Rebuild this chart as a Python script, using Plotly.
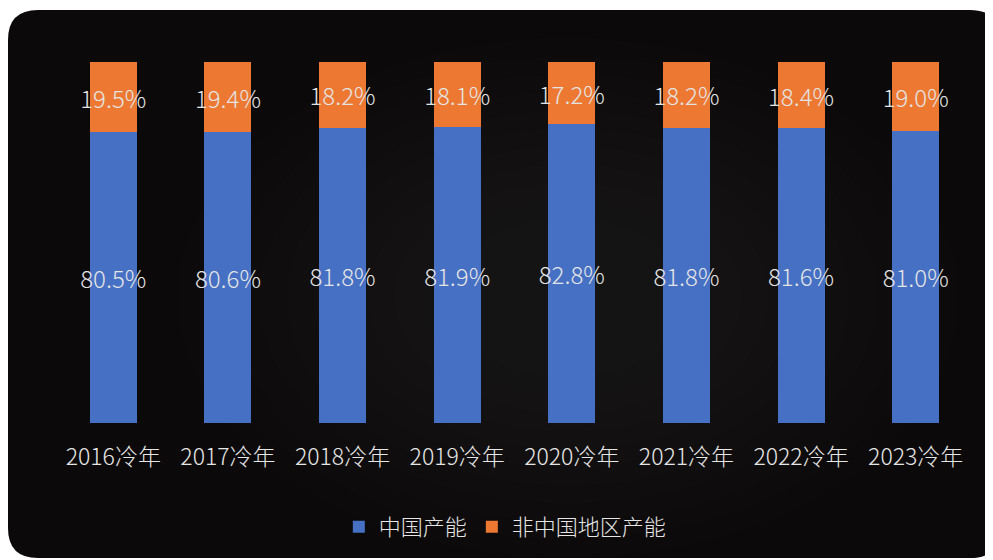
import plotly.graph_objects as go

categories = ["2016冷年", "2017冷年", "2018冷年", "2019冷年", "2020冷年", "2021冷年", "2022冷年", "2023冷年"]
china_share = [80.5, 80.6, 81.8, 81.9, 82.8, 81.8, 81.6, 81.0]
non_china_share = [19.5, 19.4, 18.2, 18.1, 17.2, 18.2, 18.4, 19.0]
series_names = ["中国产能", "非中国地区产能"]

FONT = "Noto Sans CJK SC, Microsoft YaHei, sans-serif"
W, H = 993, 560
L, R, T, B = 48, 28, 54, 145
pw, ph = W - L - R, H - T - B

def px_x(x):
    return (x - L) / pw

def px_y(y):
    return (H - B - y) / ph

fig = go.Figure()
fig.add_trace(go.Bar(
    x=categories, y=china_share, name=series_names[0],
    marker=dict(color="#4570c4", line=dict(width=0)),
    text=[f"{v:.1f}%" for v in china_share],
    textposition="inside", insidetextanchor="middle", textangle=0,
    constraintext="none",
    textfont=dict(size=24, color="#e4e4e4", family=FONT, weight=300),
    width=0.41,
))
fig.add_trace(go.Bar(
    x=categories, y=non_china_share, name=series_names[1],
    marker=dict(color="#ed7832", line=dict(width=0)),
    text=[f"{v:.1f}%" for v in non_china_share],
    textposition="inside", insidetextanchor="middle", textangle=0,
    constraintext="none",
    textfont=dict(size=24, color="#e4e4e4", family=FONT, weight=300),
    width=0.41,
))

# dark rounded background panel
x0, x1 = px_x(0), px_x(992)
y0, y1 = px_y(550), px_y(2)
rx, ry = 30 / pw, 30 / ph
path = (f"M {x0+rx},{y1} L {x1-rx},{y1} Q {x1},{y1} {x1},{y1-ry} "
        f"L {x1},{y0+ry} Q {x1},{y0} {x1-rx},{y0} L {x0+rx},{y0} "
        f"Q {x0},{y0} {x0},{y0+ry} L {x0},{y1-ry} Q {x0},{y1} {x0+rx},{y1} Z")
shapes = [dict(type="path", path=path, xref="paper", yref="paper",
               fillcolor="#0b0909", line=dict(width=0), layer="below")]
# subtle central glow (many faint layers for a soft falloff)
cx, cy = 560, 290
for i in range(14):
    r = 260 - i * 18
    shapes.append(dict(type="circle", xref="paper", yref="paper",
                       x0=px_x(cx - r * 1.5), x1=px_x(cx + r * 1.5),
                       y0=px_y(cy + r), y1=px_y(cy - r),
                       fillcolor="#262626", opacity=0.05, line=dict(width=0),
                       layer="below"))

fig.update_layout(
    width=W, height=H,
    barmode="stack",
    paper_bgcolor="white",
    plot_bgcolor="rgba(0,0,0,0)",
    margin=dict(l=L, r=R, t=T, b=B),
    shapes=shapes,
    showlegend=True,
    legend=dict(orientation="h", x=0.49, xanchor="center",
                y=px_y(519), yanchor="middle", traceorder="normal",
                font=dict(size=22, color="#e6e6e6", family=FONT, weight=300),
                itemwidth=30, bgcolor="rgba(0,0,0,0)"),
    xaxis=dict(showgrid=False, zeroline=False, showline=False, ticks="",
               tickfont=dict(size=23, color="#e6e6e6", family=FONT, weight=300),
               ticklabelstandoff=18),
    yaxis=dict(range=[0, 100], visible=False, showgrid=False),
    font=dict(family=FONT),
)

fig.write_html("out.html")
